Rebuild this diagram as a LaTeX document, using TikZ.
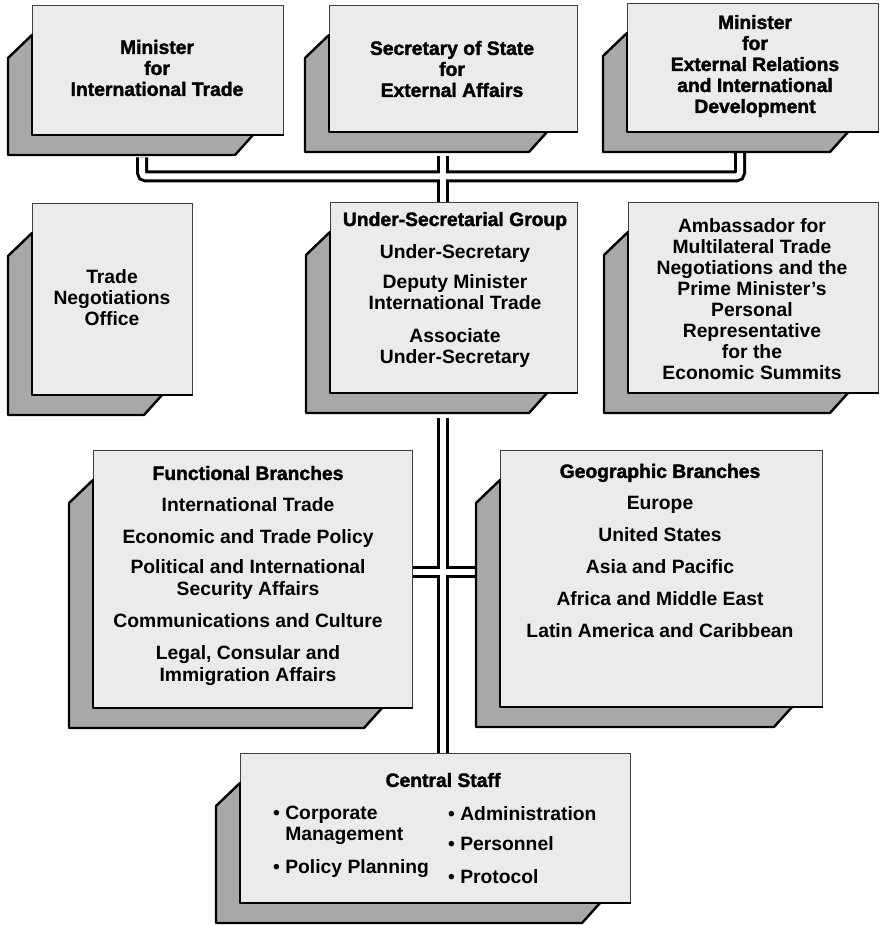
\documentclass[tikz,border=0pt]{standalone}
\usepackage{fontspec}
\setmainfont{Liberation Sans}
\newfontfamily\heavyfont{Liberation Sans}[BoldFeatures={FakeBold=1.8}]
\usetikzlibrary{calc}
\pgfdeclarelayer{bg}
\pgfsetlayers{bg,main}
\newcommand\orgbox[5]{%
  \fill[shadefill] (#2,-#3-30) -- (#2-24,-#3-53) -- (#2-24,-#5-20) -- (#4-48,-#5-20) -- (#4-30,-#5) -- (#2,-#5) -- cycle;
  \node[frontbox, minimum width={(#4-#2)*1pt}, minimum height={(#5-#3)*1pt}] (#1) at ({(#2+#4)/2},{-(#3+#5)/2}) {};
  \draw[edge] (#2,-#3-30) -- (#2-24,-#3-53) -- (#2-24,-#5-20) -- (#4-48,-#5-20) -- (#4-30,-#5);
  \draw[edge] (#2,-#3-30) -- (#2,-#5) -- (#4,-#5);
}
\newcommand\pipes[1]{%
  \draw[#1] ($(b1.south)+(-15.5,-22)$) |- (j1) -| ($(b3.south)+(-12.5,-20)$);
  \draw[#1] ($(j1 |- b2.south)+(0,-24)$) -- (j1 |- b5.north);
  \draw[#1] ($(j2 |- b5.south)+(0,-25)$) -- (j2 |- b9.north);
  \draw[#1] (b7.east |- j2) -- ($(b8.west |- j2)+(-22,0)$);
}
\begin{document}
\begin{tikzpicture}[x=1pt,y=1pt,
  shadefill/.style={fill=black!34},
  frontbox/.style={rectangle, draw=black!75, line width=0.6pt, fill=black!8, inner sep=0pt},
  edge/.style={draw=black, line width=2.4pt, line join=round, line cap=round},
  pipeout/.style={draw=black, line width=12pt, rounded corners=4pt},
  pipein/.style={draw=white, line width=6pt, rounded corners=4pt},
  txt/.style={font=\fontsize{19.3}{21}\selectfont\bfseries, align=center, inner sep=0pt},
  hv/.style={font=\fontsize{19.3}{21}\selectfont\heavyfont\bfseries, align=center, inner sep=0pt},
  lst/.style={font=\fontsize{19.3}{22}\selectfont\bfseries, align=center, inner sep=0pt},
  col/.style={font=\fontsize{19.3}{21}\selectfont\bfseries, align=left, inner sep=0pt, anchor=north west}
]
\useasboundingbox (0,0) rectangle (880,-925);

\orgbox{b1}{32}{5}{283}{135}
\orgbox{b2}{329}{5}{577}{132}
\orgbox{b3}{627}{3}{878}{132}
\orgbox{b4}{32}{203}{192}{395}
\orgbox{b5}{330}{202}{577}{393}
\orgbox{b6}{628}{202}{878}{393}
\orgbox{b7}{93}{450}{412}{708}
\orgbox{b8}{500}{450}{822}{707}
\orgbox{b9}{240}{753}{630}{903}

\node[hv] (t1) at (157,-68) {Minister\\for\\International Trade};
\node[hv] (t2) at (452,-69) {Secretary of State\\for\\External Affairs};
\node[hv] (t3) at (755,-66) {Minister\\for\\External Relations\\and International\\Development};
\node[txt] (t4) at (112,-298) {Trade\\Negotiations\\Office};
\node[txt] (t5) at (455,-290) {{\heavyfont Under-Secretarial Group}\\[12pt]
  Under-Secretary\\[9pt]Deputy Minister\\International Trade\\[12pt]Associate\\Under-Secretary};
\node[txt] (t6) at (752,-299) {Ambassador for\\Multilateral Trade\\Negotiations and the\\Prime Minister's\\Personal\\Representative\\for the\\Economic Summits};
\node[lst] (t7) at (248,-576) {{\heavyfont Functional Branches}\\[10pt]International Trade\\[10pt]Economic and Trade Policy\\[8pt]
  Political and International\\Security Affairs\\[10pt]Communications and Culture\\[10pt]Legal, Consular and\\Immigration Affairs};
\node[lst] (t8) at (660,-551) {{\heavyfont Geographic Branches}\\[10pt]Europe\\[10pt]United States\\[10pt]Asia and Pacific\\[10pt]Africa and Middle East\\[10pt]Latin America and Caribbean};
\node[hv] (t9) at (443,-780) {Central Staff};
\node[col] (c1) at (273,-806) {• Corporate\\\phantom{• }Management\\[12pt]• Policy Planning};
\node[col] (c2) at (448,-806) {• Administration\\[9pt]• Personnel\\[12pt]• Protocol};

\coordinate (j1) at (443,-176.5);
\coordinate (j2) at (443,-572);
\begin{pgfonlayer}{bg}
  \pipes{pipeout}
  \pipes{pipein}
\end{pgfonlayer}
\end{tikzpicture}
\end{document}
